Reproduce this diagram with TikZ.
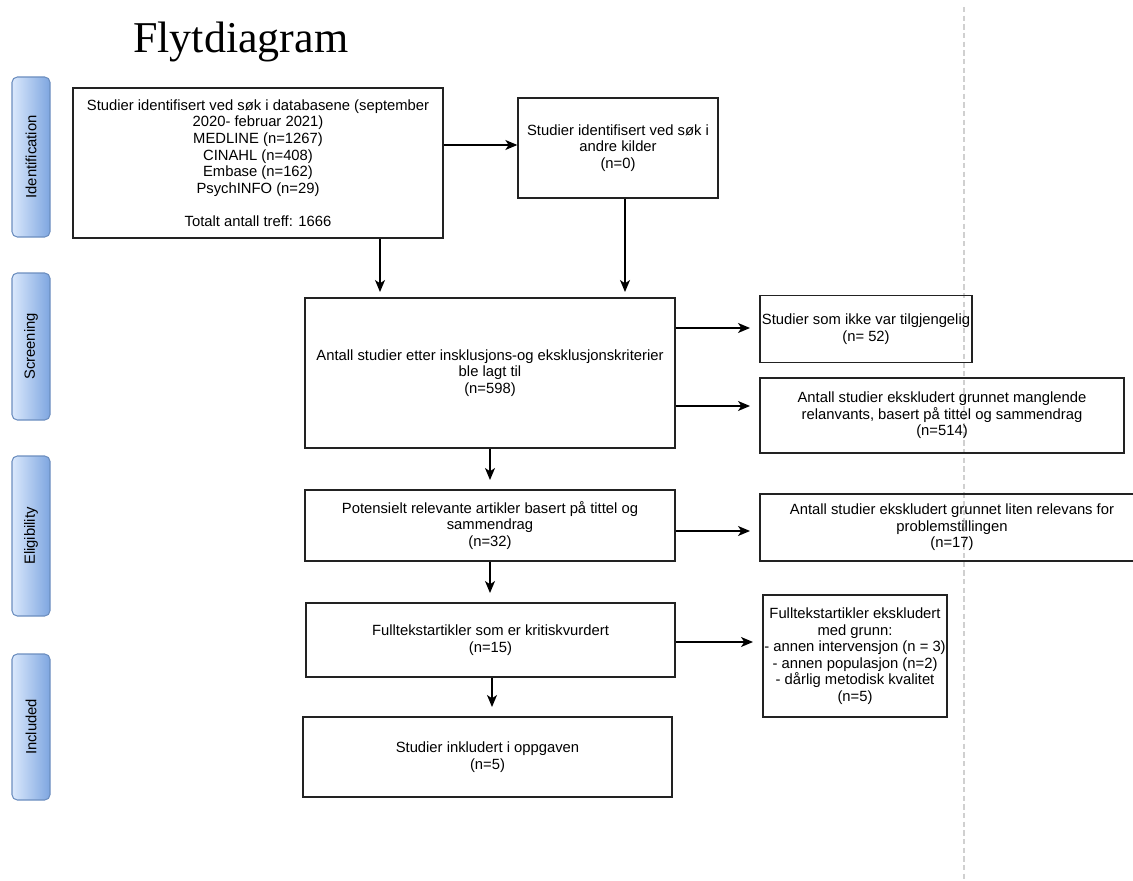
\documentclass[tikz,border=0pt]{standalone}
\usepackage{fontspec}
\setmainfont{Liberation Sans}
\newfontfamily\titlefont{Liberation Serif}
\usetikzlibrary{arrows.meta,calc}
\definecolor{labline}{HTML}{6C8EBF}
\definecolor{lablight}{HTML}{DAE8FC}
\definecolor{labdark}{HTML}{7EA6E0}
\definecolor{boxline}{HTML}{222222}
\definecolor{sepline}{HTML}{D0D0D0}
\begin{document}
\begin{tikzpicture}[x=0.75pt,y=-0.75pt,
  box/.style n args={2}{draw=boxline, line width=1pt, minimum width=#1*0.75pt, minimum height=#2*0.75pt,
    align=center, inner sep=0pt, font=\fontsize{11.1}{12.4}\selectfont},
  phase/.style n args={2}{draw=labline, line width=0.8pt, rounded corners=4pt, left color=lablight, right color=labdark,
    minimum width=38*0.75pt, minimum height=#1*0.75pt, inner sep=0pt,
    label={[rotate=90, font=\fontsize{11.1}{12.4}\selectfont]center:#2}},
  arr/.style={draw=black, line width=0.9pt, -{Stealth[length=9pt,width=7.5pt,inset=2.5pt]}, shorten >=7pt},
  sep/.style={draw=sepline, line width=1pt, dash pattern=on 4pt off 2.5pt}
]
\useasboundingbox (0,0) rectangle (1133,881);

% title
\node[anchor=base west, inner sep=0pt, font=\titlefont\fontsize{33}{36}\selectfont] (title) at (133,53) {Flytdiagram};

% separator
\coordinate (s1) at (964,7);
\coordinate (s2) at (964,881);
\draw[sep] (s1) -- (s2);

% phase labels
\node[phase={160}{Identification}] (p1) at (31,157) {};
\node[phase={147}{Screening}] (p2) at (31,346.5) {};
\node[phase={160}{Eligibility}] (p3) at (31,536) {};
\node[phase={146}{Included}] (p4) at (31,727) {};

% boxes
\node[box={370}{150}] (A) at (258,163) {Studier identifisert ved søk i databasene (september\\2020- februar 2021)\\MEDLINE (n=1267)\\CINAHL (n=408)\\Embase (n=162)\\PsychINFO (n=29)\\[12.4pt]Totalt antall treff: 1666};
\node[box={200}{100}] (B) at (618,148) {Studier identifisert ved søk i\\andre kilder\\(n=0)};
\node[box={370}{150}] (C) at (490,373) {Antall studier etter insklusjons-og eksklusjonskriterier\\ble lagt til\\(n=598)};
\node[box={212}{67}] (D) at (866,329) {Studier som ikke var tilgjengelig\\(n= 52)};
\node[box={364}{75}] (E) at (942,415.5) {Antall studier ekskludert grunnet manglende\\relanvants, basert på tittel og sammendrag\\(n=514)};
\node[box={370}{71}] (F) at (490,525.5) {Potensielt relevante artikler basert på tittel og\\sammendrag\\(n=32)};
\node[box={384}{67}] (G) at (952,527.5) {Antall studier ekskludert grunnet liten relevans for\\problemstillingen\\(n=17)};
\node[box={184}{122}] (H) at (855,656) {Fulltekstartikler ekskludert\\med grunn:\\- annen intervensjon (n = 3)\\- annen populasjon (n=2)\\- dårlig metodisk kvalitet\\(n=5)};
\node[box={369}{74}] (I) at (490.5,640) {Fulltekstartikler som er kritiskvurdert\\(n=15)};
\node[box={369}{80}] (J) at (487.5,757) {Studier inkludert i oppgaven\\(n=5)};

% connectors
\draw[arr, shorten >=0pt] (A.east |- 0,145) -- (B.west |- 0,145);
\draw[arr, shorten >=4pt] (A.south -| 380,0) -- (C.north -| 380,0);
\draw[arr, shorten >=4pt] (B.south -| 625,0) -- (C.north -| 625,0);
\draw[arr] (C.east |- 0,328) -- (D.west |- 0,328);
\draw[arr] (C.east |- 0,406) -- (E.west |- 0,406);
\draw[arr] (C.south) -- (F.north);
\draw[arr] (F.east |- 0,531) -- (G.west |- 0,531);
\draw[arr] (F.south) -- (I.north -| F.south);
\draw[arr] (I.east |- 0,642) -- (H.west |- 0,642);
\draw[arr] (I.south -| 492,0) -- (J.north -| 492,0);
\end{tikzpicture}
\end{document}
